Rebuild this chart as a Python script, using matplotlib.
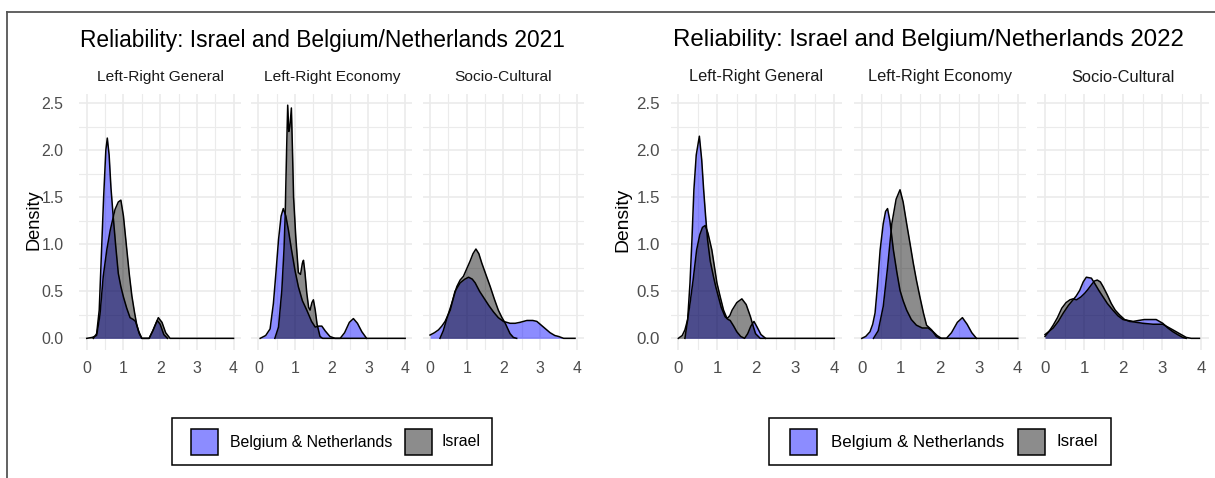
import matplotlib
matplotlib.use("Agg")
from matplotlib import pyplot as plt
from matplotlib.patches import Rectangle
from matplotlib.lines import Line2D
import numpy as np

plt.rcParams['font.family'] = ['Liberation Sans', 'DejaVu Sans']

# ---- data (density estimates) ----
facets = ["Left-Right General", "Left-Right Economy", "Socio-Cultural"]
groups = ["Belgium & Netherlands", "Israel"]
titles = ["Reliability: Israel and Belgium/Netherlands 2021",
          "Reliability: Israel and Belgium/Netherlands 2022"]

# 2021 - Left-Right General
gen21_bn_x = [0.18, 0.27, 0.34, 0.40, 0.46, 0.52, 0.56, 0.61, 0.66, 0.72, 0.79, 0.86, 0.93, 1.0, 1.09, 1.18, 1.27, 1.33, 1.41, 1.5, 1.7, 1.8, 1.92, 2.0, 2.1, 2.2]
gen21_bn_y = [0.0, 0.05, 0.3, 0.9, 1.5, 2.0, 2.13, 1.95, 1.6, 1.3, 0.98, 0.69, 0.55, 0.44, 0.32, 0.22, 0.2, 0.18, 0.08, 0.0, 0.0, 0.08, 0.19, 0.15, 0.04, 0.0]
gen21_il_x = [0.0, 0.15, 0.27, 0.36, 0.45, 0.55, 0.64, 0.77, 0.86, 0.93, 1.0, 1.09, 1.16, 1.23, 1.3, 1.36, 1.43, 1.5, 1.7, 1.8, 1.95, 2.05, 2.15, 2.27, 4.0]
gen21_il_y = [0.0, 0.01, 0.03, 0.25, 0.66, 0.95, 1.15, 1.37, 1.45, 1.47, 1.3, 0.95, 0.68, 0.45, 0.28, 0.15, 0.05, 0.0, 0.0, 0.08, 0.22, 0.17, 0.06, 0.0, 0.0]
# 2021 - Left-Right Economy
eco21_bn_x = [0.05, 0.2, 0.32, 0.41, 0.48, 0.55, 0.62, 0.68, 0.75, 0.82, 0.9, 1.0, 1.09, 1.2, 1.32, 1.45, 1.55, 1.65, 1.73, 1.82, 1.95, 2.09, 2.23, 2.35, 2.48, 2.59, 2.7, 2.82, 2.95]
eco21_bn_y = [0.0, 0.03, 0.1, 0.37, 0.7, 1.05, 1.3, 1.38, 1.3, 1.15, 0.95, 0.72, 0.55, 0.4, 0.3, 0.18, 0.12, 0.13, 0.13, 0.08, 0.02, 0.0, 0.0, 0.06, 0.17, 0.21, 0.16, 0.07, 0.0]
eco21_il_x = [0.45, 0.55, 0.64, 0.70, 0.73, 0.77, 0.80, 0.83, 0.86, 0.90, 0.93, 0.96, 1.02, 1.09, 1.15, 1.2, 1.23, 1.27, 1.32, 1.37, 1.41, 1.46, 1.5, 1.55, 1.6, 1.68, 1.75, 4.0]
eco21_il_y = [0.0, 0.12, 0.51, 0.95, 1.29, 2.0, 2.48, 2.2, 2.25, 2.45, 2.0, 1.5, 1.08, 0.7, 0.68, 0.8, 0.83, 0.7, 0.48, 0.33, 0.3, 0.38, 0.41, 0.3, 0.15, 0.02, 0.0, 0.0]
# 2021 - Socio-Cultural
soc21_bn_x = [0.0, 0.12, 0.23, 0.32, 0.41, 0.55, 0.68, 0.82, 0.95, 1.05, 1.15, 1.23, 1.35, 1.45, 1.6, 1.73, 1.86, 2.0, 2.18, 2.32, 2.45, 2.64, 2.8, 2.91, 3.0, 3.09, 3.18, 3.27, 3.4, 3.5, 3.64, 3.95]
soc21_bn_y = [0.035, 0.06, 0.09, 0.13, 0.18, 0.3, 0.5, 0.59, 0.63, 0.65, 0.63, 0.59, 0.5, 0.44, 0.35, 0.28, 0.22, 0.18, 0.16, 0.16, 0.17, 0.19, 0.19, 0.18, 0.15, 0.12, 0.09, 0.06, 0.03, 0.02, 0.0, 0.0]
soc21_il_x = [0.27, 0.36, 0.45, 0.59, 0.73, 0.82, 0.91, 1.0, 1.09, 1.17, 1.25, 1.33, 1.41, 1.52, 1.64, 1.75, 1.86, 1.96, 2.05, 2.12, 2.18, 2.27, 2.36]
soc21_il_y = [0.0, 0.08, 0.2, 0.37, 0.55, 0.62, 0.66, 0.74, 0.82, 0.9, 0.95, 0.9, 0.8, 0.68, 0.55, 0.42, 0.3, 0.22, 0.16, 0.1, 0.05, 0.01, 0.0]

# 2022 - Left-Right General
gen22_bn_x = [0.17, 0.24, 0.3, 0.35, 0.4, 0.46, 0.54, 0.6, 0.65, 0.7, 0.75, 0.82, 0.9, 0.96, 1.03, 1.1, 1.2, 1.28, 1.33, 1.42, 1.5, 1.6, 1.7, 1.78, 1.86, 1.94, 2.02, 2.12, 2.24]
gen22_bn_y = [0.0, 0.2, 0.59, 1.05, 1.58, 1.95, 2.15, 1.9, 1.58, 1.3, 1.05, 0.82, 0.66, 0.55, 0.44, 0.33, 0.23, 0.2, 0.19, 0.13, 0.07, 0.02, 0.0, 0.05, 0.13, 0.18, 0.12, 0.04, 0.0]
gen22_il_x = [0.0, 0.1, 0.17, 0.24, 0.3, 0.38, 0.47, 0.55, 0.62, 0.69, 0.76, 0.86, 0.92, 0.99, 1.07, 1.16, 1.25, 1.32, 1.38, 1.5, 1.63, 1.74, 1.85, 1.92, 1.98, 2.1, 4.0]
gen22_il_y = [0.0, 0.03, 0.09, 0.2, 0.37, 0.62, 0.94, 1.1, 1.18, 1.2, 1.12, 0.94, 0.78, 0.59, 0.45, 0.3, 0.21, 0.24, 0.3, 0.38, 0.42, 0.36, 0.23, 0.13, 0.05, 0.0, 0.0]
# 2022 - Left-Right Economy
eco22_bn_x = [0.0, 0.1, 0.21, 0.28, 0.34, 0.4, 0.47, 0.55, 0.61, 0.66, 0.72, 0.81, 0.9, 0.98, 1.06, 1.15, 1.27, 1.4, 1.55, 1.7, 1.83, 1.93, 2.04, 2.17, 2.3, 2.45, 2.58, 2.7, 2.82, 2.94]
eco22_bn_y = [0.0, 0.02, 0.07, 0.15, 0.27, 0.55, 0.94, 1.22, 1.35, 1.38, 1.25, 0.94, 0.7, 0.51, 0.4, 0.3, 0.2, 0.14, 0.11, 0.11, 0.07, 0.03, 0.0, 0.0, 0.06, 0.17, 0.22, 0.15, 0.06, 0.0]
eco22_il_x = [0.3, 0.42, 0.55, 0.66, 0.77, 0.88, 0.98, 1.06, 1.15, 1.24, 1.32, 1.4, 1.49, 1.58, 1.66, 1.79, 1.91, 2.0, 4.0]
eco22_il_y = [0.0, 0.08, 0.34, 0.75, 1.22, 1.48, 1.58, 1.45, 1.22, 1.0, 0.8, 0.62, 0.44, 0.27, 0.14, 0.09, 0.02, 0.0, 0.0]
# 2022 - Socio-Cultural
soc22_bn_x = [0.0, 0.21, 0.34, 0.47, 0.6, 0.72, 0.8, 0.89, 0.98, 1.06, 1.19, 1.28, 1.38, 1.49, 1.6, 1.74, 1.87, 2.0, 2.13, 2.26, 2.4, 2.55, 2.7, 2.85, 3.02, 3.15, 3.28, 3.4, 3.53, 3.62]
soc22_bn_y = [0.04, 0.11, 0.18, 0.27, 0.35, 0.41, 0.45, 0.51, 0.6, 0.65, 0.64, 0.58, 0.51, 0.44, 0.37, 0.3, 0.24, 0.2, 0.19, 0.18, 0.19, 0.2, 0.2, 0.2, 0.16, 0.11, 0.07, 0.04, 0.01, 0.0]
soc22_il_x = [0.0, 0.1, 0.21, 0.32, 0.43, 0.54, 0.64, 0.72, 0.81, 0.92, 1.02, 1.1, 1.19, 1.27, 1.34, 1.42, 1.49, 1.6, 1.7, 1.8, 1.91, 2.04, 2.17, 2.35, 2.51, 2.77, 3.02, 3.15, 3.28, 3.45, 3.62, 3.75, 3.96]
soc22_il_y = [0.02, 0.07, 0.14, 0.22, 0.32, 0.38, 0.41, 0.42, 0.41, 0.44, 0.48, 0.52, 0.57, 0.61, 0.62, 0.6, 0.55, 0.46, 0.37, 0.3, 0.25, 0.2, 0.18, 0.17, 0.16, 0.15, 0.15, 0.12, 0.09, 0.05, 0.01, 0.0, 0.0]

curves21 = [(gen21_bn_x, gen21_bn_y, gen21_il_x, gen21_il_y),
            (eco21_bn_x, eco21_bn_y, eco21_il_x, eco21_il_y),
            (soc21_bn_x, soc21_bn_y, soc21_il_x, soc21_il_y)]
curves22 = [(gen22_bn_x, gen22_bn_y, gen22_il_x, gen22_il_y),
            (eco22_bn_x, eco22_bn_y, eco22_il_x, eco22_il_y),
            (soc22_bn_x, soc22_bn_y, soc22_il_x, soc22_il_y)]

W, H = 1215, 478
fig = plt.figure(figsize=(W / 100, H / 100), dpi=100)
fig.patch.set_facecolor("white")

def px_axes(left, top, width, height):
    return fig.add_axes([left / W, 1 - (top + height) / H, width / W, height / H])

def px_text(x, y, s, **kw):
    return fig.text(x / W, 1 - y / H, s, **kw)

GRID = "#EBEBEB"
TICK = "#4D4D4D"
YLIM = (-0.124, 2.604)
P_TOP, P_H = 93.5, 256.5

def draw_chart(curves, lefts, pw, title, title_x, fs, ylab_x, ypad, leg):
    for k, (left, cur) in enumerate(zip(lefts, curves)):
        ax = px_axes(left, P_TOP, pw, P_H)
        ax.set_xlim(-0.2, 4.2)
        ax.set_ylim(*YLIM)
        ax.set_xticks([0, 1, 2, 3, 4])
        ax.set_xticks([0.5, 1.5, 2.5, 3.5], minor=True)
        ax.set_yticks([0, 0.5, 1.0, 1.5, 2.0, 2.5])
        ax.set_yticks([0.25, 0.75, 1.25, 1.75, 2.25], minor=True)
        ax.grid(True, which="major", color=GRID, lw=1.2)
        ax.grid(True, which="minor", color=GRID, lw=0.8)
        ax.set_axisbelow(True)
        for s in ax.spines.values():
            s.set_visible(False)
        ax.tick_params(which="both", length=0, colors=TICK, labelsize=fs * 0.7)
        ax.tick_params(axis="x", pad=8)
        ax.tick_params(axis="y", pad=ypad)
        ax.set_yticklabels(["0.0", "0.5", "1.0", "1.5", "2.0", "2.5"])
        if k > 0:
            ax.tick_params(axis="y", labelleft=False)
        bx, by, ix, iy = cur
        ax.fill_between(bx, by, 0, color="blue", alpha=0.45, lw=0)
        ax.plot(bx, by, color="black", lw=1.1)
        ax.fill_between(ix, iy, 0, color="black", alpha=0.45, lw=0)
        ax.plot(ix, iy, color="black", lw=1.1)
        px_text(left + pw / 2, 77, facets[k], ha="center", va="center",
                fontsize=fs * 0.68, color="#1A1A1A")
    px_text(title_x, 40, title, ha="center", va="center", fontsize=fs, color="black")
    px_text(ylab_x, 220, "Density", ha="center", va="center", rotation=90,
            fontsize=fs * 0.8, color="black")
    # legend box drawn by hand
    bx0, bx1, k1, t1, k2, t2 = leg
    fig.add_artist(Rectangle((bx0 / W, 1 - 465 / H), (bx1 - bx0) / W, 47 / H,
                             transform=fig.transFigure, fill=False, ec="black", lw=1.1))
    fig.add_artist(Rectangle((k1 / W, 1 - 455 / H), 27 / W, 26 / H, transform=fig.transFigure,
                             fc="blue", alpha=0.45, ec="none"))
    fig.add_artist(Rectangle((k1 / W, 1 - 455 / H), 27 / W, 26 / H, transform=fig.transFigure,
                             fill=False, ec="black", lw=1.1))
    fig.add_artist(Rectangle((k2 / W, 1 - 455 / H), 27 / W, 26 / H, transform=fig.transFigure,
                             fc="black", alpha=0.45, ec="none"))
    fig.add_artist(Rectangle((k2 / W, 1 - 455 / H), 27 / W, 26 / H, transform=fig.transFigure,
                             fill=False, ec="black", lw=1.1))
    px_text(t1, 442, groups[0], ha="left", va="center", fontsize=fs * 0.7)
    px_text(t2, 442, groups[1], ha="left", va="center", fontsize=fs * 0.7)

# 2021 chart (left) and 2022 chart (right)
draw_chart(curves21, [79.4, 251.0, 422.7], 161.5, titles[0], 322.5, 16.4, 34, 11.5,
           (172, 492, 191, 230, 404.5, 441))
draw_chart(curves22, [670.5, 854.0, 1037.2], 171.6, titles[1], 928.5, 17.3, 623, 7.5,
           (769, 1111, 790, 830.6, 1017.6, 1057))

# outer frame (top and left edges only)
fig.add_artist(Line2D([7 / W, 1], [1 - 12 / H, 1 - 12 / H], transform=fig.transFigure,
                      color="#555555", lw=1.3))
fig.add_artist(Line2D([7 / W, 7 / W], [1 - 12 / H, 0], transform=fig.transFigure,
                      color="#555555", lw=1.3))

fig.savefig("out.png", dpi=100, facecolor="white")
